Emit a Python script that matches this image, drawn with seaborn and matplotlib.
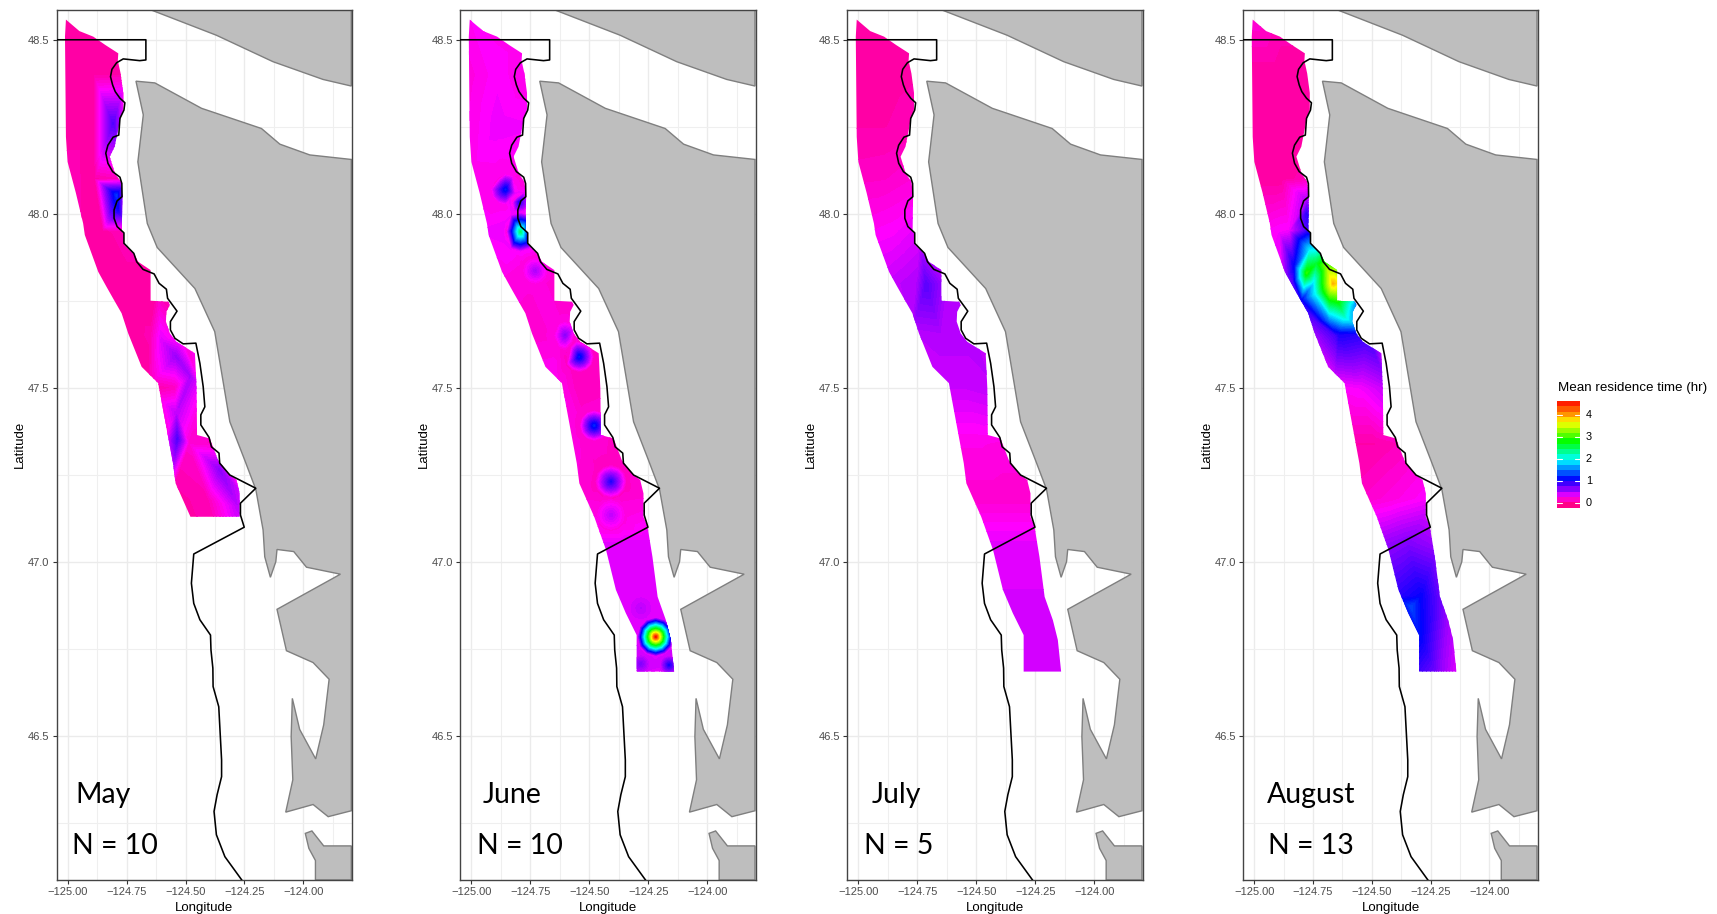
"""
Mean residence time maps, May to August, off the Washington coast.
Values, coast and boundary are read off the published figure.
"""

import numpy as np
import pandas as pd
import matplotlib
matplotlib.use("Agg")
import matplotlib.pyplot as plt
from matplotlib.colors import ListedColormap, hsv_to_rgb
from matplotlib.patches import Polygon
import seaborn as sns

# Axes
LON_TICKS = [-125.0, -124.75, -124.5, -124.25, -124.0]
LON_TICK_LABELS = ["\u2212125.00", "\u2212124.75", "\u2212124.50", "\u2212124.25", "\u2212124.00"]
LON_MINOR = [-124.875, -124.625, -124.375, -124.125, -123.875]
LAT_TICKS = [46.5, 47.0, 47.5, 48.0, 48.5]
LAT_MINOR = [46.25, 46.75, 47.25, 47.75, 48.25]
XLIM = (-125.047, -123.794)
YLIM = (46.085, 48.587)

# Land polygons
north_lon = [-124.651, -124.369, -124.129, -123.917, -123.797, -123.797]
north_lat = [48.587, 48.513, 48.437, 48.386, 48.367, 48.587]
main_lon = [-124.710, -124.630, -124.432, -124.178, -124.100, -123.973, -123.797, -123.797,
            -123.895, -123.959, -124.075, -124.045, -124.052, -124.047, -124.016, -123.948,
            -123.914, -123.891, -123.959, -124.072, -124.112, -123.843, -123.987, -124.041,
            -124.112, -124.117, -124.140, -124.164, -124.171, -124.202, -124.249, -124.312,
            -124.376, -124.460, -124.620, -124.662, -124.702, -124.679]
main_lat = [48.381, 48.376, 48.303, 48.245, 48.200, 48.169, 48.156, 46.284,
            46.267, 46.302, 46.280, 46.373, 46.497, 46.607, 46.518, 46.433,
            46.531, 46.662, 46.710, 46.744, 46.863, 46.964, 46.984, 47.029,
            47.035, 47.000, 46.955, 47.014, 47.091, 47.208, 47.292, 47.402,
            47.661, 47.785, 47.903, 47.972, 48.149, 48.284]
south_lon = [-123.992, -123.964, -123.914, -123.797, -123.797, -123.949, -123.949, -123.977]
south_lat = [46.219, 46.226, 46.183, 46.183, 46.085, 46.085, 46.141, 46.176]

# Black boundary line
boundary_lon = [-125.047, -124.668, -124.668, -124.694, -124.722, -124.764, -124.792, -124.812,
                -124.818, -124.809, -124.798, -124.778, -124.757, -124.761, -124.778, -124.783,
                -124.807, -124.829, -124.838, -124.829, -124.809, -124.778, -124.770, -124.769,
                -124.790, -124.803, -124.803, -124.790, -124.761, -124.761, -124.719, -124.707,
                -124.680, -124.633, -124.612, -124.581, -124.576, -124.536, -124.564, -124.564,
                -124.545, -124.510, -124.456, -124.439, -124.425, -124.418, -124.435, -124.435,
                -124.400, -124.390, -124.358, -124.355, -124.312, -124.202, -124.267, -124.267,
                -124.251, -124.465, -124.475, -124.465, -124.439, -124.394, -124.392, -124.384,
                -124.383, -124.359, -124.347, -124.347, -124.366, -124.379, -124.369, -124.333,
                -124.256]
boundary_lat = [48.500, 48.500, 48.442, 48.440, 48.442, 48.445, 48.434, 48.415,
                48.394, 48.370, 48.351, 48.332, 48.319, 48.298, 48.274, 48.226,
                48.220, 48.197, 48.174, 48.145, 48.121, 48.105, 48.087, 48.049,
                48.037, 48.011, 47.987, 47.963, 47.945, 47.915, 47.886, 47.862,
                47.840, 47.827, 47.800, 47.783, 47.757, 47.720, 47.690, 47.666,
                47.642, 47.626, 47.628, 47.570, 47.503, 47.445, 47.422, 47.393,
                47.357, 47.330, 47.312, 47.283, 47.249, 47.211, 47.168, 47.134,
                47.099, 47.022, 46.938, 46.880, 46.833, 46.789, 46.746, 46.694,
                46.641, 46.583, 46.430, 46.382, 46.330, 46.282, 46.215, 46.152,
                46.080]

# Outline of the sampled area
mask_east_lon = [-125.007, -124.950, -124.891, -124.840, -124.785, -124.787, -124.775, -124.764,
                 -124.764, -124.778, -124.800, -124.821, -124.799, -124.775, -124.768, -124.770,
                 -124.761, -124.761, -124.715, -124.701, -124.648, -124.648, -124.573, -124.566,
                 -124.581, -124.583, -124.566, -124.538, -124.460, -124.453, -124.451, -124.397,
                 -124.362, -124.312, -124.284, -124.270, -124.270]
mask_east_lat = [48.558, 48.525, 48.509, 48.485, 48.461, 48.440, 48.403, 48.347,
                 48.300, 48.270, 48.193, 48.164, 48.116, 48.092, 48.049, 47.948,
                 47.943, 47.912, 47.881, 47.862, 47.838, 47.750, 47.747, 47.738,
                 47.718, 47.690, 47.656, 47.632, 47.599, 47.498, 47.364, 47.354,
                 47.292, 47.249, 47.235, 47.196, 47.129]
mask_south_lon = [-124.253, -124.232, -124.210, -124.175, -124.154, -124.140, -124.299, -124.299,
                  -124.345, -124.387, -124.429]
mask_south_lat = [47.101, 47.014, 46.899, 46.832, 46.775, 46.684, 46.684, 46.789,
                  46.852, 46.919, 47.034]
mask_west_lon = [-124.479, -124.542, -124.553, -124.595, -124.616, -124.686, -124.743, -124.771,
                 -124.799, -124.835, -124.870, -124.927, -124.934, -124.965, -125.000, -125.007,
                 -125.011]
mask_west_lat = [47.129, 47.225, 47.283, 47.436, 47.513, 47.560, 47.656, 47.714,
                 47.747, 47.790, 47.833, 47.939, 47.972, 48.060, 48.149, 48.221,
                 48.509]

# Sample rows across the strip: latitude, west edge and east edge
row_lat = [48.60, 48.40, 48.25, 48.10, 47.95, 47.80, 47.65, 47.50, 47.34, 47.18, 47.05, 46.90, 46.66]
row_west = [-125.03, -125.03, -125.03, -125.02, -124.96, -124.88, -124.78, -124.66, -124.60,
            -124.57, -124.47, -124.41, -124.32]
row_east = [-124.75, -124.75, -124.75, -124.75, -124.74, -124.62, -124.52, -124.43, -124.37,
            -124.24, -124.22, -124.17, -124.11]

# Residence time (hr) on the rows: west, middle, east
may_rows = [[.05, .05, .05], [.03, .03, .05], [.03, .03, .1], [.08, .03, .1], [.06, .03, .1],
            [.02, .02, .02], [.02, .06, .15], [.02, .1, .25], [.06, .15, .12], [.02, .08, .3],
            [.03, .1, .3], [.03, .03, .03], [.03, .03, .03]]
june_rows = [[.25, .22, .2], [.18, .28, .2], [.2, .32, .3], [.22, .15, .15], [.3, .18, .25],
             [.2, .18, .15], [.15, .18, .12], [.28, .1, .12], [.22, .15, .1], [.18, .12, .18],
             [.36, .36, .36], [.36, .36, .36], [.55, .2, .5]]
july_rows = [[.03, .03, .03], [.03, .03, .05], [.05, .05, .08], [.12, .13, .18], [.25, .28, .36],
             [.42, .5, .48], [.45, .48, .48], [.42, .42, .45], [.22, .22, .2], [.15, .15, .15],
             [.35, .35, .35], [.38, .38, .38], [.38, .38, .38]]
august_rows = [[.2, .1, .1], [.02, .02, .02], [.02, .02, .02], [.02, .02, .1], [.25, .3, 1.0],
               [.35, 1.8, 3.5], [.4, .85, .9], [.25, .3, .45], [.05, .05, .1], [.12, .2, .3],
               [.55, .65, .55], [.9, 1.05, .55], [.85, .6, .25]]

# Extra readings where the field changes quickly
may_lon = [-124.806, -124.792, -124.785, -124.541, -124.479, -124.538, -124.535, -124.602, -124.354, -124.277]
may_lat = [48.260, 48.054, 48.011, 47.591, 47.532, 47.426, 47.354, 47.637, 47.263, 47.158]
may_val = [.8, 1.25, 1.0, .55, .5, .45, .8, .35, .6, .45]

july_lon = [-124.713]
july_lat = [47.795]
july_val = [.78]

august_lon = [-124.778, -124.736, -124.665, -124.694, -124.658, -124.679, -124.644, -124.616,
              -124.573, -124.736, -124.679, -124.637, -124.764, -124.828, -124.835, -124.799,
              -124.736, -124.778, -124.891, -124.778, -124.775, -124.333, -124.298]
august_lat = [47.829, 47.857, 47.800, 47.848, 47.833, 47.771, 47.747, 47.704,
              47.738, 47.771, 47.694, 47.656, 47.896, 47.848, 47.805, 47.752,
              47.694, 47.953, 47.943, 48.001, 48.039, 46.871, 46.789]
august_val = [2.9, 2.6, 3.9, 3.2, 3.4, 3.2, 2.8, 2.1,
              1.6, 2.0, 1.5, 1.0, 1.9, 1.1, .8, 1.0,
              .8, .8, .3, .9, .5, 1.3, 1.1]

# June has tight bullseyes: centre, peak, value around it and radius in degrees
june_lon = [-124.855, -124.797, -124.792, -124.729, -124.602, -124.542, -124.479, -124.408,
            -124.408, -124.281, -124.218, -124.281, -124.161]
june_lat = [48.070, 48.034, 47.948, 47.836, 47.651, 47.589, 47.391, 47.230,
            47.134, 46.866, 46.784, 46.706, 46.703]
june_val = [1.15, .95, 2.45, .5, .6, 1.15, 1.2, .95, .45, .46, 4.6, .65, 1.0]
june_base = [.22, .3, .3, .18, .18, .12, .15, .12, .2, .36, .36, .4, .4]
june_radius = [.06, .04, .075, .055, .055, .06, .06, .065, .06, .05, .075, .035, .035]
RING_DX = [1, .87, .5, 0, -.5, -.87, -1, -.87, -.5, 0, .5, .87]
RING_DY = [0, .36, .62, .72, .62, .36, 0, -.36, -.62, -.72, -.62, -.36]

# Colour scale
SCALE_MIN, SCALE_MAX = -0.23, 4.62
hue_values = [-.23, 0, .5, 1, 2, 3, 4, 4.62]
hue_stops = [.925, .9, .78, .68, .49, .29, .10, 0]
N_LEGEND_BANDS = 20
legend_ticks = [0, 1, 2, 3, 4]

# Panels
months = ["May", "June", "July", "August"]
counts = ["N = 10", "N = 10", "N = 5", "N = 13"]
month_x = [-124.969, -124.951, -124.943, -124.947]
count_x = [-124.982, -124.977, -124.977, -124.943]
panel_left = [56.5, 460.3, 847.3, 1243.3]
panel_right = [352.0, 755.7, 1142.7, 1537.7]
PANEL_TOP, PANEL_BOTTOM = 9.5, 880.0
FIG_W, FIG_H = 1717, 914


def colour_for(values):
    """Rainbow colours for residence times, same hues as the legend."""
    hues = np.interp(values, hue_values, hue_stops)
    hsv = np.column_stack([hues, np.ones(len(hues)), np.ones(len(hues))])
    return hsv_to_rgb(hsv)


def month_samples(rows, lon, lat, val):
    """Joins the rows and the extra readings of one month in a table."""
    rows = np.array(rows)
    west, east = np.array(row_west), np.array(row_east)
    row_lons = np.column_stack([west, (west + east) / 2, east])
    row_lats = np.column_stack([row_lat, row_lat, row_lat])
    return pd.DataFrame({
        "lon": np.concatenate([row_lons.ravel(), lon]),
        "lat": np.concatenate([row_lats.ravel(), lat]),
        "hours": np.concatenate([rows.ravel(), val]),
    })


def june_samples():
    """June rows plus the bullseyes with their surrounding readings."""
    ring_lon, ring_lat, ring_val = [], [], []
    for x, y, base, r in zip(june_lon, june_lat, june_base, june_radius):
        ring_lon.extend(x + r * dx for dx in RING_DX)
        ring_lat.extend(y + r * dy for dy in RING_DY)
        ring_val.extend([base] * len(RING_DX))
    return month_samples(june_rows, june_lon + ring_lon, june_lat + ring_lat, june_val + ring_val)


def style_axes(ax):
    ax.set_xlim(*XLIM)
    ax.set_ylim(*YLIM)
    ax.set_xticks(LON_TICKS)
    ax.set_xticklabels(LON_TICK_LABELS)
    ax.set_xticks(LON_MINOR, minor=True)
    ax.set_yticks(LAT_TICKS)
    ax.set_yticks(LAT_MINOR, minor=True)
    ax.yaxis.set_major_formatter(matplotlib.ticker.FormatStrFormatter("%.1f"))
    ax.grid(True, which="major", color="#EBEBEB", linewidth=1.0)
    ax.grid(True, which="minor", color="#EFEFEF", linewidth=0.8)
    ax.set_axisbelow(True)
    ax.tick_params(axis="both", which="major", length=3, width=0.8, color="#333333",
                   labelcolor="#4D4D4D", labelsize=8, pad=2, bottom=True, left=True)
    ax.tick_params(axis="both", which="minor", length=0)
    for spine in ax.spines.values():
        spine.set_visible(True)
        spine.set_color("#444444")
        spine.set_linewidth(1.0)
    ax.set_xlabel("Longitude", fontsize=9.5, color="black", labelpad=3.5)
    ax.set_ylabel("Latitude", fontsize=9.5, color="black", labelpad=1.5)


def draw_panel(ax, samples, mask_lon, mask_lat, month, count, mx, cx):
    for lon, lat in [(north_lon, north_lat), (main_lon, main_lat), (south_lon, south_lat)]:
        ax.fill(lon, lat, facecolor="#BEBEBE", edgecolor="#7F7F7F", linewidth=1.0, zorder=2)

    levels = np.linspace(SCALE_MIN, SCALE_MAX, 121)
    centres = (levels[:-1] + levels[1:]) / 2
    field = ax.tricontourf(samples["lon"], samples["lat"], samples["hours"], levels=levels,
                           colors=colour_for(centres), zorder=3)
    field.set_clip_path(Polygon(np.column_stack([mask_lon, mask_lat]), closed=True,
                                transform=ax.transData))

    line = pd.DataFrame({"lon": boundary_lon, "lat": boundary_lat})
    sns.lineplot(data=line, x="lon", y="lat", sort=False, estimator=None, color="black",
                 linewidth=1.15, ax=ax, zorder=4)

    ax.text(mx, 46.330, month, fontsize=20.5, family="Lato", color="black", va="center", zorder=5)
    ax.text(cx, 46.182, count, fontsize=20.5, family="Lato", color="black", va="center", zorder=5)
    style_axes(ax)


def draw_legend(fig):
    top, bottom, left, right = 401.0, 507.7, 1557.3, 1580.0
    ax = fig.add_axes([left / FIG_W, 1 - bottom / FIG_H, (right - left) / FIG_W, (bottom - top) / FIG_H])
    step = (SCALE_MAX - SCALE_MIN) / N_LEGEND_BANDS
    bands = SCALE_MAX - step * (np.arange(N_LEGEND_BANDS) + 0.5)
    band_cmap = ListedColormap(colour_for(np.sort(bands)))
    sns.heatmap(pd.DataFrame({"hours": bands}), cmap=band_cmap, vmin=SCALE_MIN, vmax=SCALE_MAX,
                cbar=False, xticklabels=False, yticklabels=False, ax=ax)
    ax.set_xlabel("")
    ax.set_ylabel("")
    for tick in legend_ticks:
        y = (SCALE_MAX - tick) / step
        ax.plot([0, 0.2], [y, y], color="white", linewidth=0.8)
        ax.plot([0.8, 1], [y, y], color="white", linewidth=0.8)
        ax.text(1.26, y, str(tick), fontsize=7.8, color="black", va="center", ha="left")
    fig.text(1557.5 / FIG_W, 1 - 388.0 / FIG_H, "Mean residence time (hr)", fontsize=9.6,
             color="black", va="center", ha="left")


def main():
    sns.set_theme(style="white")
    plt.rcParams["font.family"] = ["Liberation Sans", "DejaVu Sans"]

    full_lon = mask_east_lon + mask_south_lon + mask_west_lon
    full_lat = mask_east_lat + mask_south_lat + mask_west_lat
    short_lon = mask_east_lon + mask_west_lon
    short_lat = mask_east_lat + mask_west_lat

    panels = [
        (month_samples(may_rows, may_lon, may_lat, may_val), short_lon, short_lat),
        (june_samples(), full_lon, full_lat),
        (month_samples(july_rows, july_lon, july_lat, july_val), full_lon, full_lat),
        (month_samples(august_rows, august_lon, august_lat, august_val), full_lon, full_lat),
    ]

    fig = plt.figure(figsize=(FIG_W / 100, FIG_H / 100), dpi=100, facecolor="white")
    for i, (samples, mask_lon, mask_lat) in enumerate(panels):
        ax = fig.add_axes([panel_left[i] / FIG_W, 1 - PANEL_BOTTOM / FIG_H,
                           (panel_right[i] - panel_left[i]) / FIG_W,
                           (PANEL_BOTTOM - PANEL_TOP) / FIG_H])
        draw_panel(ax, samples, mask_lon, mask_lat, months[i], counts[i], month_x[i], count_x[i])
    draw_legend(fig)
    fig.savefig("out.png", dpi=100)


if __name__ == "__main__":
    main()
